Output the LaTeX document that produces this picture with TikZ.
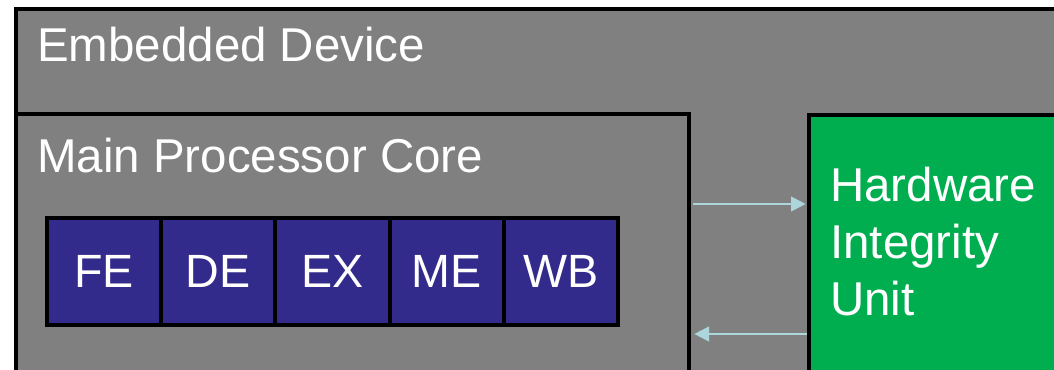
\documentclass[tikz,border=0pt]{standalone}
\usepackage{fontspec}
\setmainfont{Liberation Sans}
\usetikzlibrary{arrows.meta,positioning}
\definecolor{cbox}{RGB}{128,128,128}
\definecolor{cstage}{RGB}{51,43,140}
\definecolor{chwu}{RGB}{0,174,80}
\definecolor{clink}{RGB}{172,214,220}

\tikzset{
  frame/.style={draw=black, line width=3pt, fill=cbox, anchor=north west, inner sep=0pt},
  stagebox/.style={draw=black, line width=3pt, fill=cstage, text=white, inner sep=0pt,
    minimum width=114.2*0.75pt, minimum height=107*0.75pt, font=\fontsize{35}{42}\selectfont},
  caption/.style={text=white, anchor=base west, inner sep=0pt, font=\fontsize{35.6}{42}\selectfont},
  link/.style={-{Triangle[length=11pt,width=11pt]}, clink, line width=1.6pt, shorten >=1pt}
}

\begin{document}
\begin{tikzpicture}[x=0.75pt, y=-0.75pt]
    \useasboundingbox (0,0) rectangle (1054,370);
    \clip (0,0) rectangle (1054,370);
    % device and core frames
    \node[frame, minimum width=1060*0.75pt, minimum height=380*0.75pt] (device) at (14,7) {};
    \node[frame, minimum width=673*0.75pt, minimum height=270*0.75pt] (core) at (14,112) {};
    \node[frame, fill=chwu, minimum width=260*0.75pt, minimum height=270*0.75pt] (hwu) at (807,113) {};
    \node[caption] (devicelabel) at (37,62) {Embedded Device};
    \node[caption] (corelabel) at (37,173) {Main Processor Core};
    \node[text=white, anchor=north west, inner sep=0pt, align=left,
      font=\fontsize{35.6}{42.75}\selectfont] (hwulabel) at (830,167) {Hardware\\Integrity\\Unit};
    % pipeline stages
    \foreach \name [count=\i from 0] in {FE,DE,EX,ME,WB}{
      \node[stagebox] (\name) at (47+57.1+\i*114.2,271.5) {\name};
    }
    % links between core and integrity unit
    \coordinate (coreout) at (core.east |- 0,204);
    \coordinate (corein) at (core.east |- 0,334);
    \draw[link] (coreout) ++(2,0) -- (hwu.west |- coreout);
    \draw[link] (hwu.west |- corein) -- ([xshift=1.5pt]corein);
\end{tikzpicture}
\end{document}
